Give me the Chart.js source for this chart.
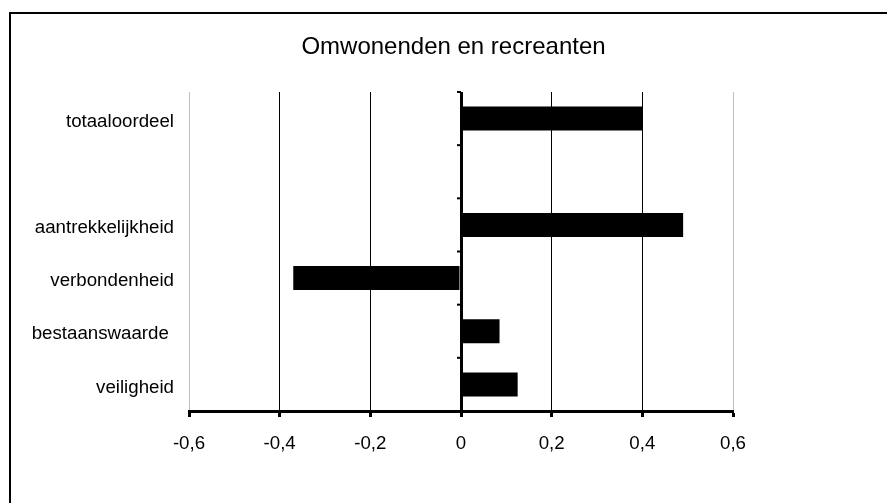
<!DOCTYPE html>
<html>
<head>
<meta charset="utf-8">
<script src="https://cdn.jsdelivr.net/npm/chart.js@4/dist/chart.umd.min.js"></script>
<style>
  html, body { margin: 0; padding: 0; background: #fff; }
  #wrap { position: relative; width: 887px; height: 503px; overflow: hidden; }
  #frame { position: absolute; left: 9px; top: 12px; width: 900px; height: 520px; border: 2px solid #000; box-sizing: border-box; pointer-events: none; }
  canvas { position: absolute; left: 0; top: 0; }
</style>
</head>
<body>
<div id="wrap">
  <canvas id="chart" width="887" height="503"></canvas>
  <div id="frame"></div>
</div>
<script>
// Global Options
Chart.defaults.font.family = "'Liberation Sans', Arial, sans-serif";
Chart.defaults.font.size = 18.7;
Chart.defaults.color = '#000';

const categories = ['totaaloordeel', '', 'aantrekkelijkheid', 'verbondenheid', 'bestaanswaarde ', 'veiligheid'];
const scores = [0.40, null, 0.49, -0.37, 0.085, 0.125];
const xTicks = [-0.6, -0.4, -0.2, 0, 0.2, 0.4, 0.6];

// little marks on the zero line between categories
const zeroTicks = {
  id: 'zeroTicks',
  afterDatasetsDraw(chart) {
    const x = chart.scales.x.getPixelForValue(0);
    const y = chart.scales.y;
    const ctx = chart.ctx;
    ctx.save();
    ctx.strokeStyle = '#000';
    ctx.lineWidth = 2;
    for (let i = 0; i < categories.length; i++) {
      const py = y.getPixelForValue(i - 0.5);
      ctx.beginPath();
      ctx.moveTo(x - 4, py);
      ctx.lineTo(x, py);
      ctx.stroke();
    }
    ctx.restore();
  }
};

const gridColor = (c) => (Math.abs(c.tick.value) > 0.55 ? '#c0c0c0' : '#000');
const gridWidth = (c) => (c.tick.value === 0 ? 3 : 1);

let ctx = document.getElementById('chart').getContext('2d');
let chart = new Chart(ctx, {
  type: 'bar',
  data: {
    labels: categories,
    datasets: [
      {
        data: scores,
        backgroundColor: '#000',
        borderWidth: 0,
        barPercentage: 0.45,
        categoryPercentage: 1,
      },
    ],
  },
  plugins: [zeroTicks],
  options: {
    indexAxis: 'y',
    responsive: false,
    animation: false,
    layout: {
      padding: { left: 20, right: 0, top: 0, bottom: 0 },
    },
    scales: {
      x: {
        min: -0.6,
        max: 0.6,
        afterBuildTicks: (scale) => {
          scale.ticks = xTicks.map((v) => ({ value: v }));
        },
        afterFit: (scale) => {
          scale.height = 92;
        },
        ticks: {
          padding: 16,
          callback: (v) => String(Math.round(v * 10) / 10).replace('.', ','),
          maxRotation: 0,
        },
        grid: {
          color: gridColor,
          lineWidth: gridWidth,
          drawTicks: true,
          tickLength: 6,
          tickColor: '#000',
          tickWidth: 3,
        },
        border: { display: true, color: '#000', width: 3 },
      },
      y: {
        afterFit: (scale) => {
          scale.width = 169;
        },
        ticks: { padding: 15, labelOffset: 3 },
        grid: { display: false, drawTicks: false },
        border: { display: false },
      },
      // empty right-hand space so the title centres on the whole chart
      yRight: {
        type: 'category',
        position: 'right',
        afterFit: (scale) => {
          scale.width = 154;
        },
        ticks: { display: false },
        grid: { display: false, drawTicks: false },
        border: { display: false },
      },
    },
    plugins: {
      title: {
        display: true,
        text: 'Omwonenden en recreanten',
        color: '#000',
        font: { size: 24, weight: 'normal' },
        padding: { top: 32.6, bottom: 30.6 },
      },
      legend: { display: false },
      tooltip: { enabled: false },
    },
  },
});
</script>
</body>
</html>
